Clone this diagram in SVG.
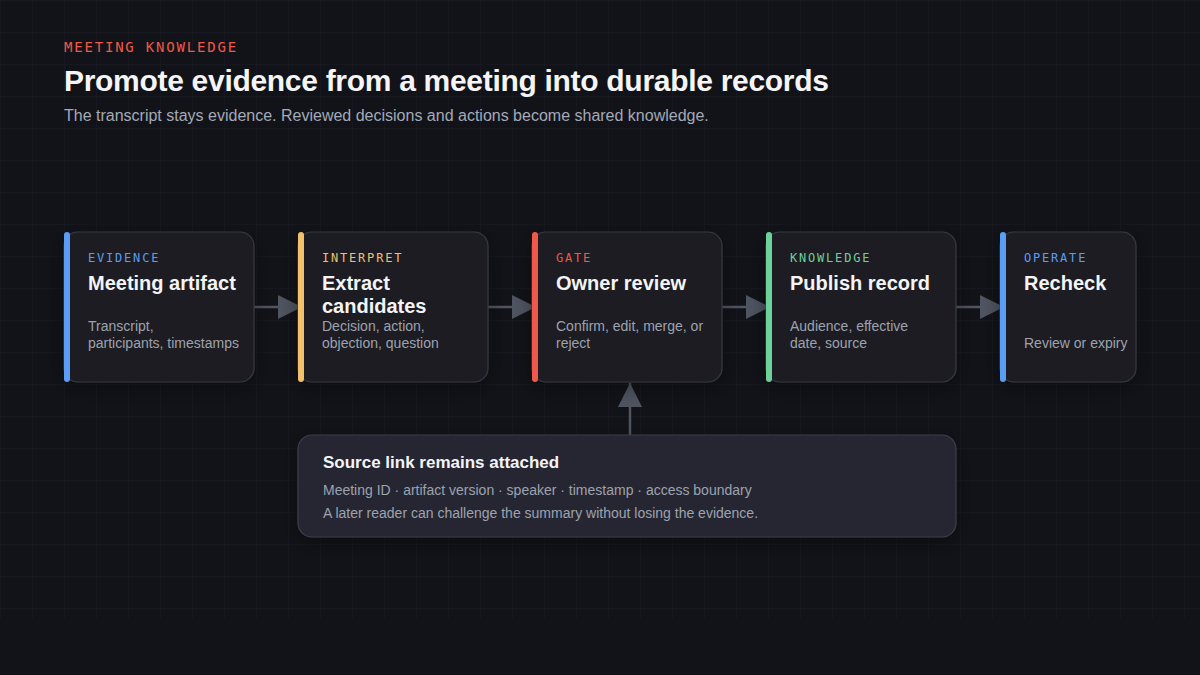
<svg xmlns="http://www.w3.org/2000/svg" width="1200" height="675" viewBox="0 0 1200 675">
  <defs>
    <pattern id="grid" width="32" height="32" patternUnits="userSpaceOnUse">
      <path d="M32 0H0V32" fill="none" stroke="#1c1e25" stroke-width="1"/>
    </pattern>
    <filter id="shadow" x="-20%" y="-20%" width="140%" height="150%">
      <feDropShadow dx="0" dy="6" stdDeviation="10" flood-color="#000000" flood-opacity="0.35"/>
    </filter>
    <marker id="arrow" viewBox="0 0 24 24" markerWidth="24" markerHeight="24" refX="24" refY="12" orient="auto" markerUnits="userSpaceOnUse">
      <path d="M0 0L24 12L0 24Z" fill="#4f5561"/>
    </marker>
    <style>
      .kicker{font-family:"DejaVu Sans Mono",monospace;font-size:14px;letter-spacing:1.8px;fill:#ee5a48}
      .h1{font-family:"Liberation Sans",Arial,sans-serif;font-size:30px;font-weight:bold;letter-spacing:-0.3px;fill:#f5f5f7}
      .sub{font-family:"Liberation Sans",Arial,sans-serif;font-size:16px;fill:#a3aab8}
      .node{fill:#1b1c24;stroke:#363a45;stroke-width:1.2}
      .tag{font-family:"DejaVu Sans Mono",monospace;font-size:12px;letter-spacing:1.8px}
      .title{font-family:"Liberation Sans",Arial,sans-serif;font-size:20px;font-weight:bold;fill:#f3f4f6}
      .desc{font-family:"Liberation Sans",Arial,sans-serif;font-size:14px;fill:#9ca3af}
      .edge{stroke:#4f5561;stroke-width:2.5;fill:none}
      .note{fill:#252831;stroke:#3b3f4a;stroke-width:1.2}
      .ntitle{font-family:"Liberation Sans",Arial,sans-serif;font-size:17px;font-weight:bold;fill:#f3f4f6}
    </style>
  </defs>
  <rect width="1200" height="675" fill="#121318"/>
  <rect x="0" y="0" width="1200" height="618" fill="url(#grid)"/>

  <text class="kicker" x="64" y="52">MEETING KNOWLEDGE</text>
  <text class="h1" x="64" y="91">Promote evidence from a meeting into durable records</text>
  <text class="sub" x="64" y="121">The transcript stays evidence. Reviewed decisions and actions become shared knowledge.</text>

  <g id="connectors">
    <line class="edge" x1="254" y1="307" x2="302" y2="307" marker-end="url(#arrow)"/>
    <line class="edge" x1="488" y1="307" x2="536" y2="307" marker-end="url(#arrow)"/>
    <line class="edge" x1="722" y1="307" x2="770" y2="307" marker-end="url(#arrow)"/>
    <line class="edge" x1="956" y1="307" x2="1004" y2="307" marker-end="url(#arrow)"/>
    <line class="edge" x1="630" y1="435" x2="630" y2="383" marker-end="url(#arrow)"/>
  </g>

  <g id="node-evidence">
    <rect class="node" x="64" y="232" width="190" height="150" rx="14" filter="url(#shadow)"/>
    <rect x="64" y="232" width="6" height="150" rx="3" fill="#5b9df5"/>
    <text class="tag" x="88" y="262" fill="#5b9df5">EVIDENCE</text>
    <text class="title" x="88" y="290">Meeting artifact</text>
    <text class="desc" x="88" y="331">Transcript,</text>
    <text class="desc" x="88" y="348">participants, timestamps</text>
  </g>

  <g id="node-interpret">
    <rect class="node" x="298" y="232" width="190" height="150" rx="14" filter="url(#shadow)"/>
    <rect x="298" y="232" width="6" height="150" rx="3" fill="#f3c06c"/>
    <text class="tag" x="322" y="262" fill="#f3c06c">INTERPRET</text>
    <text class="title" x="322" y="290">Extract</text>
    <text class="title" x="322" y="313">candidates</text>
    <text class="desc" x="322" y="331">Decision, action,</text>
    <text class="desc" x="322" y="348">objection, question</text>
  </g>

  <g id="node-gate">
    <rect class="node" x="532" y="232" width="190" height="150" rx="14" filter="url(#shadow)"/>
    <rect x="532" y="232" width="6" height="150" rx="3" fill="#f0584a"/>
    <text class="tag" x="556" y="262" fill="#f0584a">GATE</text>
    <text class="title" x="556" y="290">Owner review</text>
    <text class="desc" x="556" y="331">Confirm, edit, merge, or</text>
    <text class="desc" x="556" y="348">reject</text>
  </g>

  <g id="node-knowledge">
    <rect class="node" x="766" y="232" width="190" height="150" rx="14" filter="url(#shadow)"/>
    <rect x="766" y="232" width="6" height="150" rx="3" fill="#6dd19a"/>
    <text class="tag" x="790" y="262" fill="#6dd19a">KNOWLEDGE</text>
    <text class="title" x="790" y="290">Publish record</text>
    <text class="desc" x="790" y="331">Audience, effective</text>
    <text class="desc" x="790" y="348">date, source</text>
  </g>

  <g id="node-operate">
    <rect class="node" x="1000" y="232" width="136" height="150" rx="14" filter="url(#shadow)"/>
    <rect x="1000" y="232" width="6" height="150" rx="3" fill="#5b9df5"/>
    <text class="tag" x="1024" y="262" fill="#5b9df5">OPERATE</text>
    <text class="title" x="1024" y="290">Recheck</text>
    <text class="desc" x="1024" y="348">Review or expiry</text>
  </g>

  <g id="node-source">
    <rect class="note" x="298" y="435" width="658" height="102" rx="14" filter="url(#shadow)"/>
    <text class="ntitle" x="323" y="468">Source link remains attached</text>
    <text class="desc" x="323" y="495">Meeting ID · artifact version · speaker · timestamp · access boundary</text>
    <text class="desc" x="323" y="518">A later reader can challenge the summary without losing the evidence.</text>
  </g>
</svg>
